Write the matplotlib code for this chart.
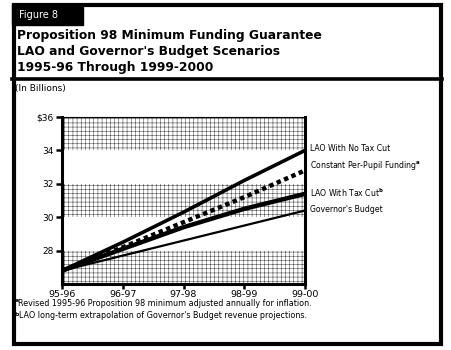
import matplotlib
matplotlib.use("Agg")
import matplotlib.pyplot as plt
from matplotlib.patches import Rectangle
from matplotlib.lines import Line2D

plt.rcParams['font.family'] = ['DejaVu Sans']
plt.rcParams['hatch.linewidth'] = 0.4

# Data ($ billions)
years = ["95-96", "96-97", "97-98", "98-99", "99-00"]
lao_no_tax_cut = [26.8, 28.5, 30.3, 32.2, 34.0]
constant_per_pupil = [26.8, 28.2, 29.7, 31.2, 32.8]
lao_tax_cut = [26.8, 28.1, 29.4, 30.5, 31.4]
governors_budget = [26.8, 27.7, 28.6, 29.5, 30.4]

series_labels = ["LAO With No Tax Cut", "Constant Per-Pupil Funding$^{\\mathbf{a}}$",
                 "LAO With Tax Cut$^{\\mathbf{b}}$", "Governor's Budget"]
label_y = [34.1, 33.1, 31.45, 30.45]
y_ticks = [28, 30, 32, 34, 36]
y_ticklabels = ["28", "30", "32", "34", "$36"]
bands = [(26, 28), (30, 32), (34, 36)]

W, H = 451, 350
fig = plt.figure(figsize=(W / 100, H / 100), dpi=100)


def fx(px):
    return px / W


def fy(py):
    return 1 - py / H


# outer frame, figure tab and divider
fig.patches.append(Rectangle((fx(13.5), fy(344)), fx(427.5), 339.5 / H, transform=fig.transFigure,
                             fill=False, edgecolor="black", linewidth=3))
fig.patches.append(Rectangle((fx(12), fy(25)), fx(71), 21 / H, transform=fig.transFigure,
                             facecolor="black", edgecolor="black"))
fig.lines.append(Line2D([fx(12), fx(442)], [fy(78.5), fy(78.5)], transform=fig.transFigure,
                        color="black", linewidth=2.6))

fig.text(fx(19), fy(14.5), "Figure 8", color="white", fontsize=7, va="center")
title = ("Proposition 98 Minimum Funding Guarantee\n"
         "LAO and Governor's Budget Scenarios\n"
         "1995-96 Through 1999-2000")
fig.text(fx(17), fy(52), title, fontsize=8.8, fontweight="bold", va="center",
         linespacing=1.3)
fig.text(fx(15), fy(88), "(In Billions)", fontsize=6.5, va="center")

# main axes
ax = fig.add_axes([fx(62), fy(284), fx(305) - fx(62), fy(117) - fy(284)])
x = range(len(years))

for lo, hi in bands:
    ax.axhspan(lo, hi, facecolor="white", edgecolor="#505050", hatch="++++",
               linewidth=0, zorder=0)

ax.plot(x, governors_budget, color="black", linewidth=1.6, zorder=3)
ax.plot(x, lao_tax_cut, color="black", linewidth=3.2, zorder=3)
ax.plot(x, constant_per_pupil, color="black", linewidth=3.2,
        linestyle=(0, (1, 0.8)), dash_capstyle="butt", zorder=3)
ax.plot(x, lao_no_tax_cut, color="black", linewidth=2.6, zorder=3)

ax.set_xlim(0, 4)
ax.set_ylim(26, 36)
ax.set_xticks(list(x))
ax.set_xticklabels(years, fontsize=6.8)
ax.set_yticks(y_ticks)
ax.set_yticklabels(y_ticklabels, fontsize=6.5)
ax.tick_params(axis="x", direction="out", length=3.5, width=1.8, pad=1)
ax.tick_params(axis="y", direction="out", length=4, width=1.8, pad=2)
for side in ["left", "bottom", "right"]:
    ax.spines[side].set_linewidth(2.2)
ax.spines["top"].set_linewidth(0.8)

for lbl, yv in zip(series_labels, label_y):
    ax.text(4.08, yv, lbl, fontsize=5.6, va="center", ha="left", clip_on=False)

# footnotes
fig.text(fx(14.5), fy(301), "a", fontsize=4.5, fontweight="bold", va="center")
fig.text(fx(18), fy(304), "Revised 1995-96 Proposition 98 minimum adjusted annually for inflation.",
         fontsize=5.8, va="center")
fig.text(fx(14.5), fy(315), "b", fontsize=4.5, fontweight="bold", va="center")
fig.text(fx(19), fy(316), "LAO long-term extrapolation of Governor's Budget revenue projections.",
         fontsize=5.8, va="center")

fig.savefig("out.png", dpi=100)
